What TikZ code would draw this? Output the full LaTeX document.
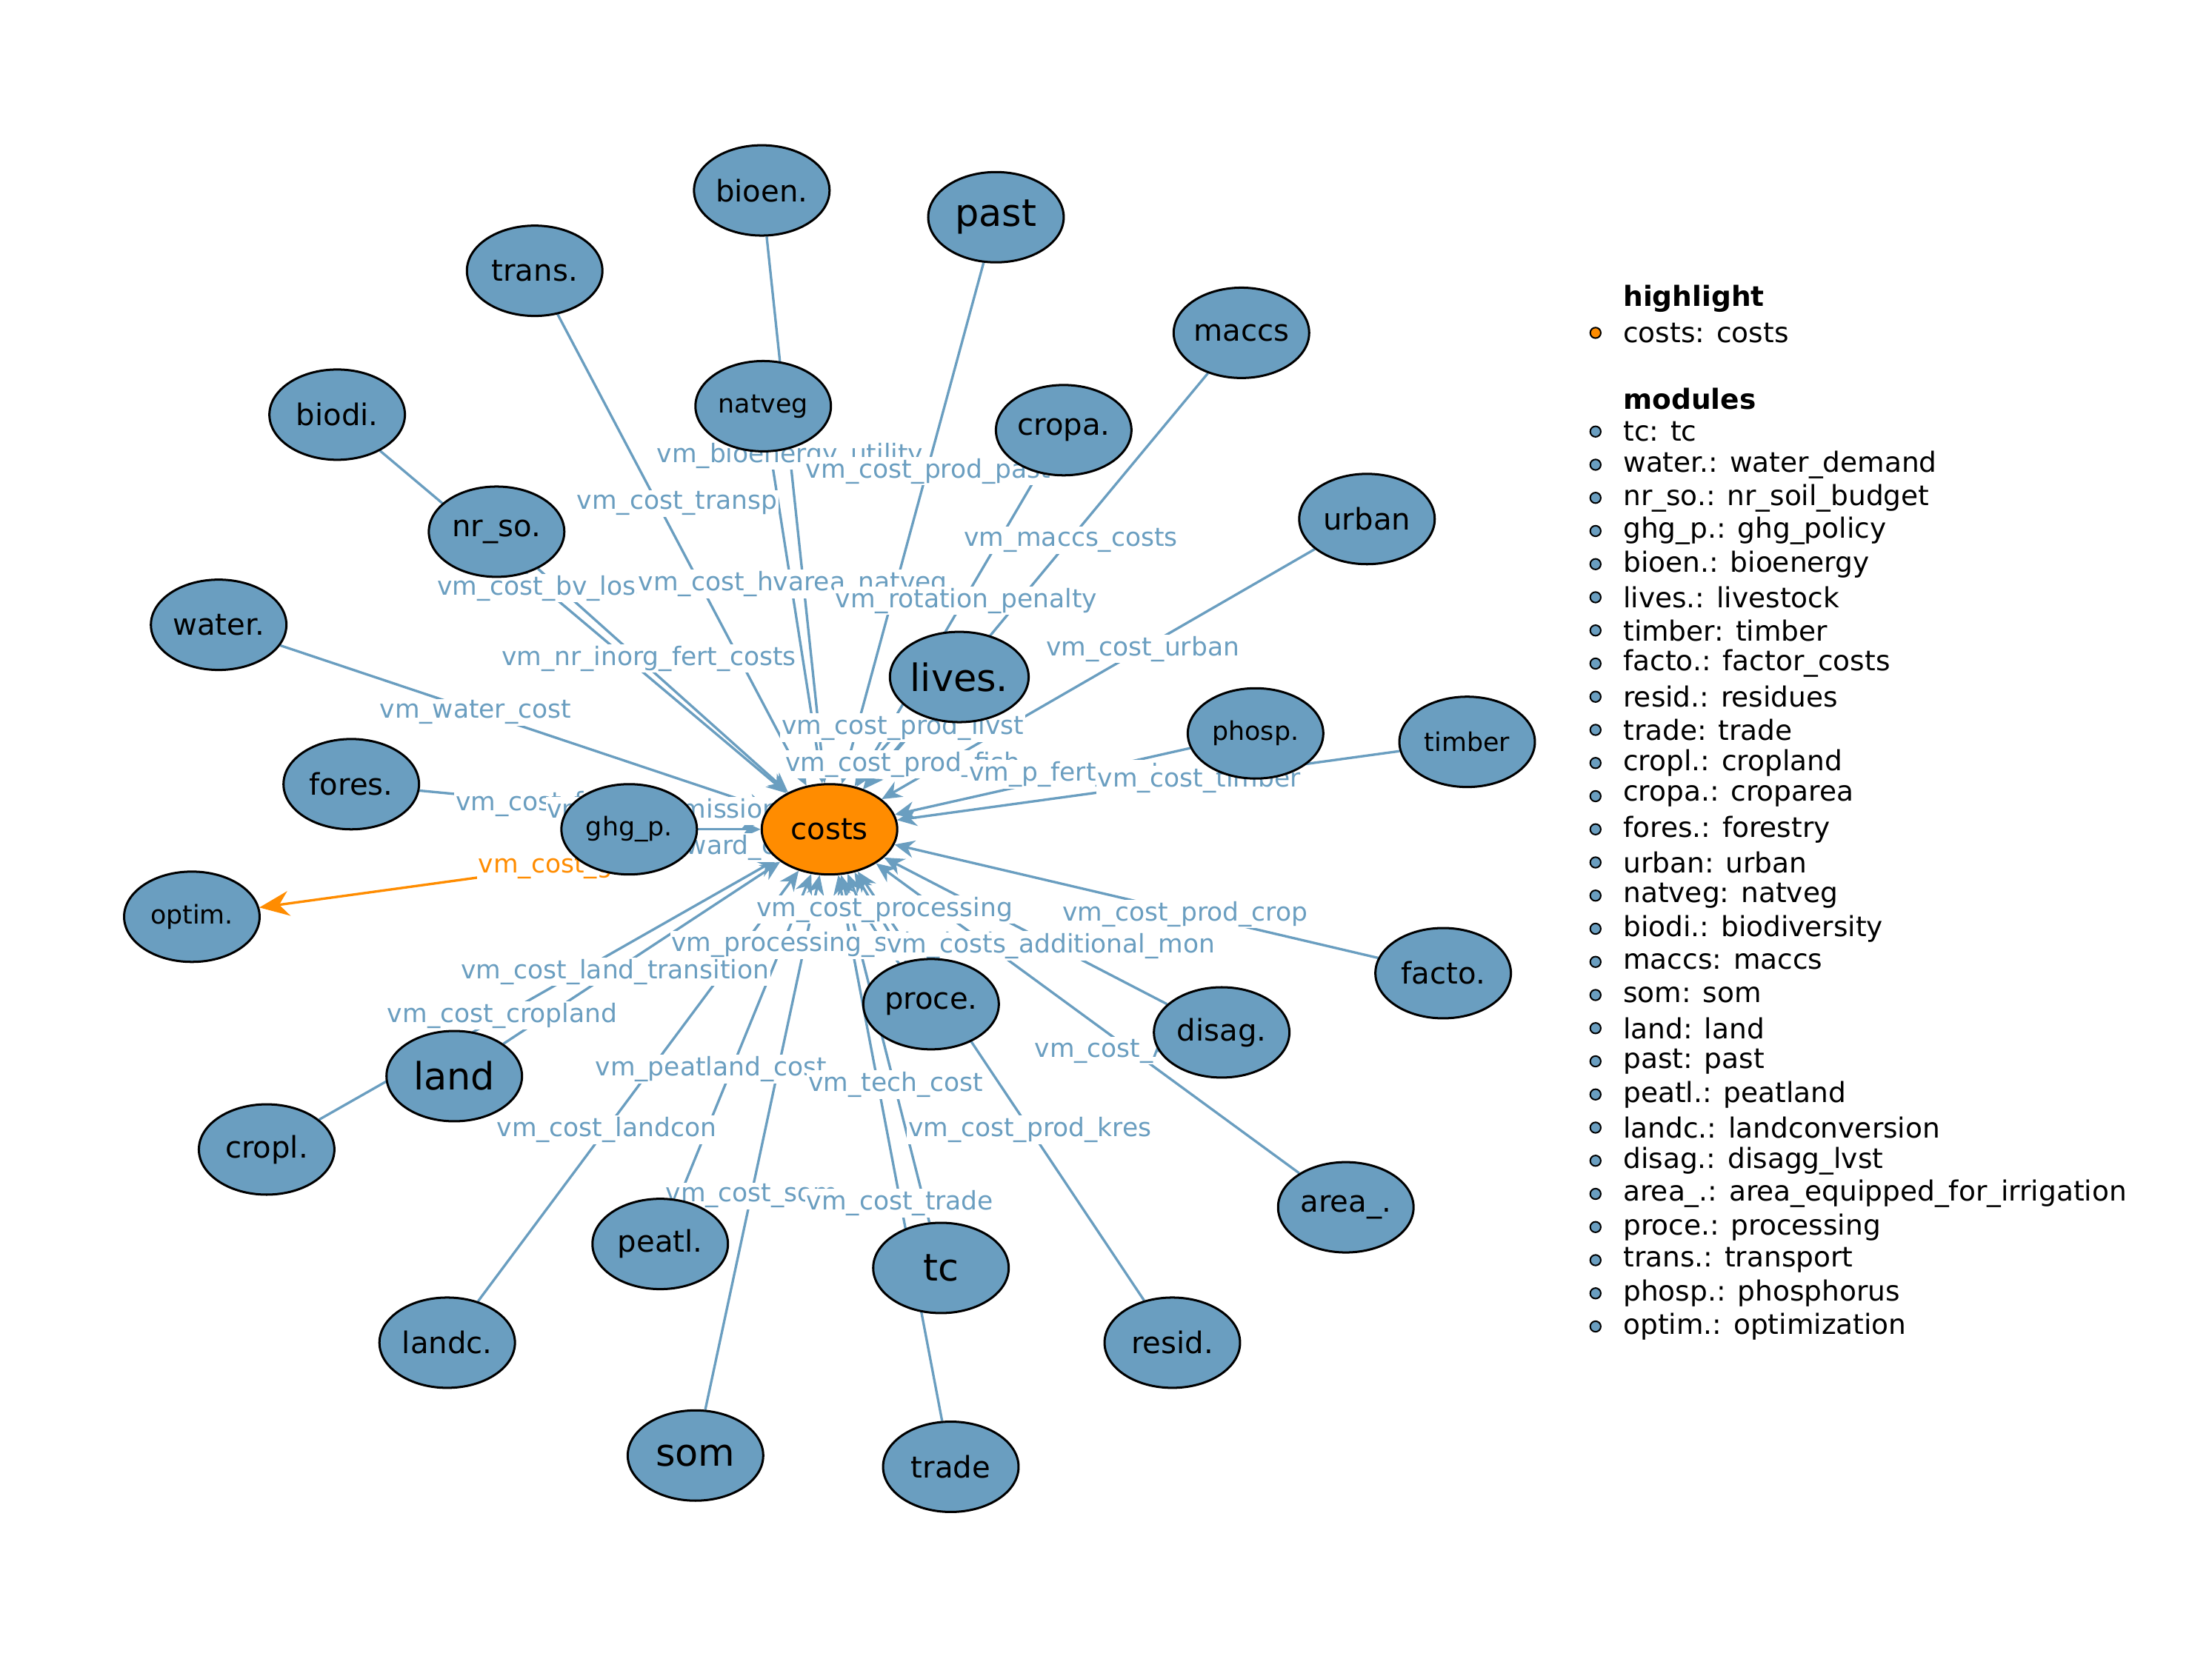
\documentclass[tikz,border=0pt]{standalone}
\usepackage{fontspec}
\setmainfont{DejaVu Sans}
\usetikzlibrary{shapes.geometric,arrows.meta}
\definecolor{modblue}{RGB}{106,158,192}
\definecolor{hlorange}{RGB}{255,140,0}
\pgfdeclarelayer{background}
\pgfsetlayers{background,main}
\tikzset{
  module/.style={ellipse,draw=black,line width=0.45pt,fill=modblue,minimum width=0.96cm,minimum height=0.64cm,inner sep=0pt,font=\fontsize{6}{7}\selectfont},
  bigmod/.style={module,font=\fontsize{7.6}{8}\selectfont},
  smallmod/.style={module,font=\fontsize{5.2}{6}\selectfont},
  edgelabel/.style={fill=white,inner sep=0.3pt,text=modblue,font=\fontsize{5.15}{6}\selectfont},
  link/.style={draw=modblue,line width=0.5pt,-{Stealth[length=4pt,width=3.5pt]}},
  legdot/.style={circle,draw=black,line width=0.3pt,fill=modblue,minimum size=0.075cm,inner sep=0pt},
  legtext/.style={anchor=west,inner sep=0pt,font=\fontsize{5.6}{6}\selectfont}
}
\begin{document}
\begin{tikzpicture}[x=0.01cm,y=-0.01cm]
\useasboundingbox (0,0) rectangle (1568,1176);

% modules
\node[module,fill=hlorange] (costs) at (588,588) {costs};
\node[module] (bioen) at (540,135) {bioen.};
\node[bigmod] (past) at (706,154) {past};
\node[module] (trans) at (379,192) {trans.};
\node[module] (maccs) at (880,236) {maccs};
\node[smallmod] (natveg) at (541,288) {natveg};
\node[module] (cropa) at (754,305) {cropa.};
\node[module] (biodi) at (239,294) {biodi.};
\node[module] (nrso) at (352,377) {nr\_so.};
\node[module] (urban) at (969,368) {urban};
\node[module] (water) at (155,443) {water.};
\node[bigmod] (lives) at (680,480) {lives.};
\node[smallmod] (phosp) at (890,520) {phosp.};
\node[smallmod] (timber) at (1040,526) {timber};
\node[module] (fores) at (249,556) {fores.};
\node[smallmod] (ghgp) at (446,588) {ghg\_p.};
\node[smallmod] (optim) at (136,650) {optim.};
\node[module] (facto) at (1023,690) {facto.};
\node[module] (proce) at (660,712) {proce.};
\node[module] (disag) at (866,732) {disag.};
\node[bigmod] (land) at (322,763) {land};
\node[module] (cropl) at (189,815) {cropl.};
\node[module] (areaa) at (954,856) {area\_.};
\node[module] (peatl) at (468,882) {peatl.};
\node[bigmod] (tc) at (667,899) {tc};
\node[module] (resid) at (831,952) {resid.};
\node[module] (landc) at (317,952) {landc.};
\node[bigmod] (som) at (493,1032) {som};
\node[module] (trade) at (674,1040) {trade};

% links into costs, labels above the lines
\begin{pgfonlayer}{background}
\foreach \src in {bioen,past,trans,maccs,natveg,cropa,biodi,nrso,urban,water,lives,phosp,timber,fores,ghgp,facto,proce,disag,land,cropl,areaa,peatl,tc,resid,landc,som,trade}
  \draw[link] (\src) -- (costs);
\draw[link] (lives) to[bend right=8] (costs);
\draw[link] (ghgp) to[bend right=10] (costs);
\draw[link] (proce) to[bend left=8] (costs);
\draw[link,draw=hlorange,-{Stealth[length=6pt,width=5pt]}] (costs) -- (optim);

\foreach \x/\y/\txt in {
  560/323/vm\_bioenergy\_utility, 658/334/vm\_cost\_prod\_past, 480/357/vm\_cost\_transp,
  759/383/vm\_maccs\_costs, 385/417/vm\_cost\_bv\_loss, 562/414/vm\_cost\_hvarea\_natveg,
  685/426/vm\_rotation\_penalty, 460/467/vm\_nr\_inorg\_fert\_costs, 810/460/vm\_cost\_urban,
  337/505/vm\_water\_cost, 640/516/vm\_cost\_prod\_livst, 640/542/vm\_cost\_prod\_fish,
  760/549/vm\_p\_fert\_costs, 850/553/vm\_cost\_timber, 383/570/vm\_cost\_fore,
  470/575/vm\_cost\_emission, 516/601/vm\_reward\_cdr\_aff,
  627/645/vm\_cost\_processing, 840/648/vm\_cost\_prod\_crop,
  625/670/vm\_processing\_substitution\_cost, 745/671/vm\_costs\_additional\_mon,
  436/689/vm\_cost\_land\_transition, 356/720/vm\_cost\_cropland, 790/745/vm\_cost\_AEI,
  504/758/vm\_peatland\_cost, 635/769/vm\_tech\_cost, 430/801/vm\_cost\_landcon,
  730/801/vm\_cost\_prod\_kres, 533/848/vm\_cost\_som, 638/853/vm\_cost\_trade}
  \node[edgelabel] at (\x,\y) {\txt};
\node[edgelabel,text=hlorange] at (395,614) {vm\_cost\_glo};
\end{pgfonlayer}

% legend
\node[legtext,font=\fontsize{5.6}{6}\selectfont\bfseries] at (1150,212) {highlight};
\node[legdot,fill=hlorange] at (1131,236) {};
\node[legtext] at (1150,236) {costs: costs};
\node[legtext,font=\fontsize{5.6}{6}\selectfont\bfseries] at (1150,283) {modules};
\foreach \txt [count=\i from 0] in {tc: tc, water.: water\_demand, nr\_so.: nr\_soil\_budget,
  ghg\_p.: ghg\_policy, bioen.: bioenergy, lives.: livestock, timber: timber,
  facto.: factor\_costs, resid.: residues, trade: trade, cropl.: cropland,
  cropa.: croparea, fores.: forestry, urban: urban, natveg: natveg,
  biodi.: biodiversity, maccs: maccs, som: som, land: land, past: past,
  peatl.: peatland, landc.: landconversion, disag.: disagg\_lvst,
  area\_.: area\_equipped\_for\_irrigation, proce.: processing, trans.: transport,
  phosp.: phosphorus, optim.: optimization} {
  \node[legdot] at (1131,306+23.5*\i) {};
  \node[legtext] at (1150,306+23.5*\i) {\txt};
}
\end{tikzpicture}
\end{document}
